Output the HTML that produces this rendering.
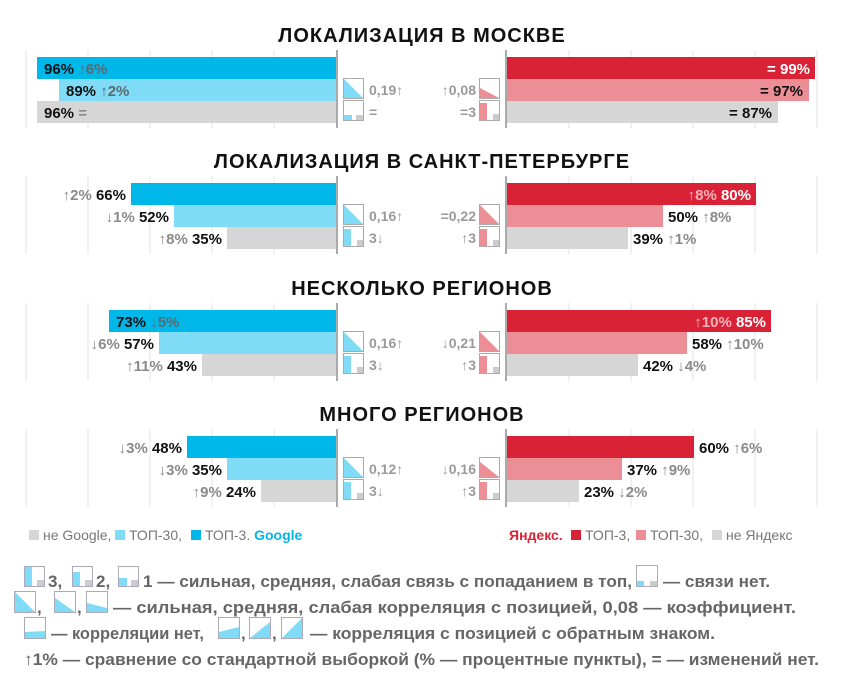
<!DOCTYPE html>
<html><head><meta charset="utf-8"><style>
html,body{margin:0;padding:0;background:#fff}
svg{display:block}
text{font-family:"Liberation Sans",sans-serif}
.t{font-size:20px;font-weight:bold;fill:#111;letter-spacing:1px;text-anchor:middle}
.l{font-size:15px;font-weight:bold;fill:#111}
.g{fill:#8a8a8a}
.d{fill:#5a6a70}
.w{fill:#fff}
.m{font-size:14px;font-weight:bold;fill:#9a9a9a}
.lg{font-size:14px;fill:#777}
.f{font-size:17px;font-weight:bold;fill:#666}
</style></head><body>
<svg width="843" height="684" viewBox="0 0 843 684" xmlns="http://www.w3.org/2000/svg">
<g stroke="#e3e3e3" stroke-width="1">
<path d="M26 50V128M88 50V128M150 50V128M212 50V128M274 50V128M569 50V128M631 50V128M693 50V128M755 50V128M817 50V128"/>
<path d="M26 176V254M88 176V254M150 176V254M212 176V254M274 176V254M569 176V254M631 176V254M693 176V254M755 176V254M817 176V254"/>
<path d="M26 303V381M88 303V381M150 303V381M212 303V381M274 303V381M569 303V381M631 303V381M693 303V381M755 303V381M817 303V381"/>
<path d="M26 429V507M88 429V507M150 429V507M212 429V507M274 429V507M569 429V507M631 429V507M693 429V507M755 429V507M817 429V507"/>
</g>
<g stroke="#aaa" stroke-width="2">
<path d="M337 50V128M506 50V128M337 176V254M506 176V254M337 303V381M506 303V381M337 429V507M506 429V507"/>
</g>
<text class="t" x="422" y="42">ЛОКАЛИЗАЦИЯ В МОСКВЕ</text>
<text class="t" x="422" y="168">ЛОКАЛИЗАЦИЯ В САНКТ-ПЕТЕРБУРГЕ</text>
<text class="t" x="422" y="295">НЕСКОЛЬКО РЕГИОНОВ</text>
<text class="t" x="422" y="421">МНОГО РЕГИОНОВ</text>

<g>
<rect x="37" y="57" width="299" height="22" fill="#00b7ea"/>
<rect x="59" y="79" width="277" height="22" fill="#80dcf6"/>
<rect x="37" y="101" width="299" height="22" fill="#d6d6d6"/>
<rect x="507" y="57" width="308" height="22" fill="#da2236"/>
<rect x="507" y="79" width="302" height="22" fill="#eb8e96"/>
<rect x="507" y="101" width="271" height="22" fill="#d6d6d6"/>

<rect x="131" y="183" width="205" height="22" fill="#00b7ea"/>
<rect x="174" y="205" width="162" height="22" fill="#80dcf6"/>
<rect x="227" y="227" width="109" height="22" fill="#d6d6d6"/>
<rect x="507" y="183" width="249" height="22" fill="#da2236"/>
<rect x="507" y="205" width="156" height="22" fill="#eb8e96"/>
<rect x="507" y="227" width="121" height="22" fill="#d6d6d6"/>

<rect x="109" y="310" width="227" height="22" fill="#00b7ea"/>
<rect x="159" y="332" width="177" height="22" fill="#80dcf6"/>
<rect x="202" y="354" width="134" height="22" fill="#d6d6d6"/>
<rect x="507" y="310" width="264" height="22" fill="#da2236"/>
<rect x="507" y="332" width="180" height="22" fill="#eb8e96"/>
<rect x="507" y="354" width="131" height="22" fill="#d6d6d6"/>

<rect x="187" y="436" width="149" height="22" fill="#00b7ea"/>
<rect x="227" y="458" width="109" height="22" fill="#80dcf6"/>
<rect x="261" y="480" width="75" height="22" fill="#d6d6d6"/>
<rect x="507" y="436" width="187" height="22" fill="#da2236"/>
<rect x="507" y="458" width="115" height="22" fill="#eb8e96"/>
<rect x="507" y="480" width="72" height="22" fill="#d6d6d6"/>
</g>

<g class="l">
<text x="44" y="74">96% <tspan class="d">↑6%</tspan></text>
<text x="66" y="96">89% <tspan class="d">↑2%</tspan></text>
<text x="44" y="118">96% <tspan class="g">=</tspan></text>
<text x="810" y="74" text-anchor="end" class="w">= 99%</text>
<text x="803" y="96" text-anchor="end">= 97%</text>
<text x="772" y="118" text-anchor="end">= 87%</text>

<text x="126" y="200" text-anchor="end"><tspan class="g">↑2%</tspan> 66%</text>
<text x="169" y="222" text-anchor="end"><tspan class="g">↓1%</tspan> 52%</text>
<text x="222" y="244" text-anchor="end"><tspan class="g">↑8%</tspan> 35%</text>
<text x="751" y="200" text-anchor="end" class="w"><tspan fill="#f4b5ba">↑8%</tspan> 80%</text>
<text x="668" y="222">50% <tspan class="g">↑8%</tspan></text>
<text x="633" y="244">39% <tspan class="g">↑1%</tspan></text>

<text x="116" y="327">73% <tspan class="d">↓5%</tspan></text>
<text x="154" y="349" text-anchor="end"><tspan class="g">↓6%</tspan> 57%</text>
<text x="197" y="371" text-anchor="end"><tspan class="g">↑11%</tspan> 43%</text>
<text x="766" y="327" text-anchor="end" class="w"><tspan fill="#f4b5ba">↑10%</tspan> 85%</text>
<text x="692" y="349">58% <tspan class="g">↑10%</tspan></text>
<text x="643" y="371">42% <tspan class="g">↓4%</tspan></text>

<text x="182" y="453" text-anchor="end"><tspan class="g">↓3%</tspan> 48%</text>
<text x="222" y="475" text-anchor="end"><tspan class="g">↓3%</tspan> 35%</text>
<text x="256" y="497" text-anchor="end"><tspan class="g">↑9%</tspan> 24%</text>
<text x="699" y="453">60% <tspan class="g">↑6%</tspan></text>
<text x="627" y="475">37% <tspan class="g">↑9%</tspan></text>
<text x="584" y="497">23% <tspan class="g">↓2%</tspan></text>
</g>

<g stroke="#aaa" stroke-width="1">
<rect x="343.5" y="78.5" width="20" height="20" fill="#fff"/><polygon points="344,79 363,98 344,98" fill="#80dcf6" stroke="none"/>
<rect x="343.5" y="100.5" width="20" height="20" fill="#fff"/><rect x="344" y="115" width="8" height="5" fill="#80dcf6" stroke="none"/><rect x="356" y="115" width="7" height="5" fill="#ccc" stroke="none"/>
<rect x="479.5" y="78.5" width="20" height="20" fill="#fff"/><polygon points="480,88 499,98 480,98" fill="#eb8e96" stroke="none"/>
<rect x="479.5" y="100.5" width="20" height="20" fill="#fff"/><rect x="480" y="103" width="7" height="17" fill="#eb8e96" stroke="none"/><rect x="493" y="114" width="6" height="6" fill="#ccc" stroke="none"/>
<rect x="343.5" y="204.5" width="20" height="20" fill="#fff"/><polygon points="344,205 363,224 344,224" fill="#80dcf6" stroke="none"/>
<rect x="343.5" y="226.5" width="20" height="20" fill="#fff"/><rect x="344" y="229" width="7" height="17" fill="#80dcf6" stroke="none"/><rect x="357" y="240" width="6" height="6" fill="#ccc" stroke="none"/>
<rect x="479.5" y="204.5" width="20" height="20" fill="#fff"/><polygon points="480,205 499,224 480,224" fill="#eb8e96" stroke="none"/>
<rect x="479.5" y="226.5" width="20" height="20" fill="#fff"/><rect x="480" y="229" width="7" height="17" fill="#eb8e96" stroke="none"/><rect x="493" y="240" width="6" height="6" fill="#ccc" stroke="none"/>
<rect x="343.5" y="331.5" width="20" height="20" fill="#fff"/><polygon points="344,332 363,351 344,351" fill="#80dcf6" stroke="none"/>
<rect x="343.5" y="353.5" width="20" height="20" fill="#fff"/><rect x="344" y="356" width="7" height="17" fill="#80dcf6" stroke="none"/><rect x="357" y="367" width="6" height="6" fill="#ccc" stroke="none"/>
<rect x="479.5" y="331.5" width="20" height="20" fill="#fff"/><polygon points="480,332 499,351 480,351" fill="#eb8e96" stroke="none"/>
<rect x="479.5" y="353.5" width="20" height="20" fill="#fff"/><rect x="480" y="356" width="7" height="17" fill="#eb8e96" stroke="none"/><rect x="493" y="367" width="6" height="6" fill="#ccc" stroke="none"/>
<rect x="343.5" y="457.5" width="20" height="20" fill="#fff"/><polygon points="344,458 363,477 344,477" fill="#80dcf6" stroke="none"/>
<rect x="343.5" y="479.5" width="20" height="20" fill="#fff"/><rect x="344" y="482" width="7" height="17" fill="#80dcf6" stroke="none"/><rect x="357" y="493" width="6" height="6" fill="#ccc" stroke="none"/>
<rect x="479.5" y="457.5" width="20" height="20" fill="#fff"/><polygon points="480,462 499,477 480,477" fill="#eb8e96" stroke="none"/>
<rect x="479.5" y="479.5" width="20" height="20" fill="#fff"/><rect x="480" y="482" width="7" height="17" fill="#eb8e96" stroke="none"/><rect x="493" y="493" width="6" height="6" fill="#ccc" stroke="none"/>
</g>
<g class="m">
<text x="369" y="95">0,19↑</text><text x="369" y="117">=</text>
<text x="476" y="95" text-anchor="end">↑0,08</text><text x="476" y="117" text-anchor="end">=3</text>
<text x="369" y="221">0,16↑</text><text x="369" y="243">3↓</text>
<text x="476" y="221" text-anchor="end">=0,22</text><text x="476" y="243" text-anchor="end">↑3</text>
<text x="369" y="348">0,16↑</text><text x="369" y="370">3↓</text>
<text x="476" y="348" text-anchor="end">↓0,21</text><text x="476" y="370" text-anchor="end">↑3</text>
<text x="369" y="474">0,12↑</text><text x="369" y="496">3↓</text>
<text x="476" y="474" text-anchor="end">↓0,16</text><text x="476" y="496" text-anchor="end">↑3</text>
</g>

<rect x="29" y="530" width="10" height="10" fill="#d6d6d6"/>
<text class="lg" x="43" y="540">не Google,</text>
<rect x="115" y="530" width="10" height="10" fill="#80dcf6"/>
<text class="lg" x="129" y="540">ТОП-30,</text>
<rect x="191" y="530" width="10" height="10" fill="#00b7ea"/>
<text class="lg" x="205" y="540">ТОП-3. <tspan font-weight="bold" fill="#00b7ea">Google</tspan></text>
<text class="lg" x="509" y="540"><tspan font-weight="bold" fill="#da2236">Яндекс.</tspan></text>
<rect x="571" y="530" width="10" height="10" fill="#da2236"/>
<text class="lg" x="585" y="540">ТОП-3,</text>
<rect x="636" y="530" width="10" height="10" fill="#eb8e96"/>
<text class="lg" x="650" y="540">ТОП-30,</text>
<rect x="712" y="530" width="10" height="10" fill="#d6d6d6"/>
<text class="lg" x="726" y="540">не Яндекс</text>

<g stroke="#aab" stroke-width="1">
<rect x="24.5" y="566.5" width="20" height="20" fill="#fff"/><rect x="25" y="567" width="7" height="19" fill="#80dcf6" stroke="none"/><rect x="37" y="580" width="7" height="6" fill="#ccc" stroke="none"/>
<rect x="72.5" y="566.5" width="20" height="20" fill="#fff"/><rect x="73" y="572" width="7" height="14" fill="#80dcf6" stroke="none"/><rect x="85" y="580" width="7" height="6" fill="#ccc" stroke="none"/>
<rect x="118.5" y="566.5" width="20" height="20" fill="#fff"/><rect x="119" y="578" width="8" height="8" fill="#80dcf6" stroke="none"/><rect x="131" y="580" width="7" height="6" fill="#ccc" stroke="none"/>
<rect x="636.5" y="565.5" width="21" height="21" fill="#fff"/><rect x="637" y="581" width="7" height="5" fill="#80dcf6" stroke="none"/><rect x="650" y="581" width="7" height="5" fill="#ccc" stroke="none"/>

<rect x="14.5" y="591.5" width="21" height="21" fill="#fff"/><polygon points="15,592 35,612 15,612" fill="#80dcf6" stroke="none"/>
<rect x="54.5" y="591.5" width="21" height="21" fill="#fff"/><polygon points="55,598 75,612 55,612" fill="#80dcf6" stroke="none"/>
<rect x="86.5" y="591.5" width="21" height="21" fill="#fff"/><polygon points="87,603 107,608 107,612 87,612" fill="#80dcf6" stroke="none"/>

<rect x="24.5" y="617.5" width="21" height="21" fill="#fff"/><polygon points="25,632 45,631 45,638 25,638" fill="#80dcf6" stroke="none"/>
<rect x="218.5" y="617.5" width="21" height="21" fill="#fff"/><polygon points="219,632 239,627 239,638 219,638" fill="#80dcf6" stroke="none"/>
<rect x="249.5" y="617.5" width="21" height="21" fill="#fff"/><polygon points="250,638 270,622 270,638" fill="#80dcf6" stroke="none"/>
<rect x="281.5" y="617.5" width="21" height="21" fill="#fff"/><polygon points="282,638 302,618 302,638" fill="#80dcf6" stroke="none"/>
</g>
<g class="f">
<text x="48" y="587">3,</text><text x="96" y="587">2,</text>
<text x="143" y="587" textLength="489" lengthAdjust="spacingAndGlyphs">1 — сильная, средняя, слабая связь с попаданием в топ,</text>
<text x="663" y="587" textLength="107" lengthAdjust="spacingAndGlyphs">— связи нет.</text>
<text x="37" y="613">,</text><text x="77" y="613">,</text>
<text x="113" y="613" textLength="683" lengthAdjust="spacingAndGlyphs">— сильная, средняя, слабая корреляция с позицией, 0,08 — коэффициент.</text>
<text x="51" y="639" textLength="153" lengthAdjust="spacingAndGlyphs">— корреляции нет,</text><text x="241" y="639">,</text><text x="272" y="639">,</text>
<text x="310" y="639" textLength="405" lengthAdjust="spacingAndGlyphs">— корреляция с позицией с обратным знаком.</text>
<text x="24" y="665" textLength="795" lengthAdjust="spacingAndGlyphs">↑1% — сравнение со стандартной выборкой (% — процентные пункты), = — изменений нет.</text>
</g>
</svg>
</body></html>
